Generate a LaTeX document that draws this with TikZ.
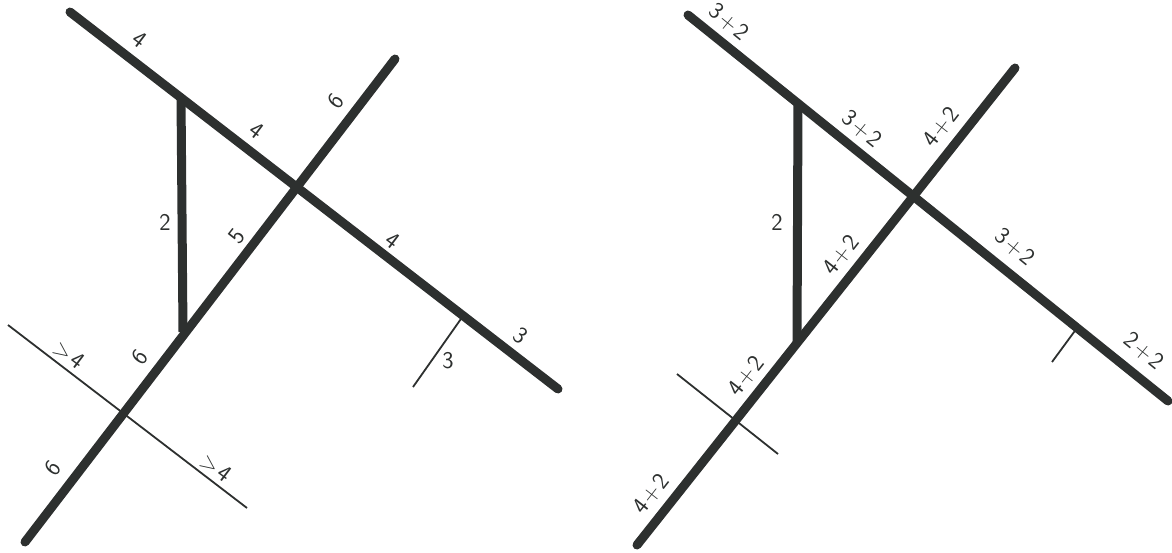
\documentclass[tikz,border=0pt]{standalone}
\usepackage{fontspec}
\definecolor{ink}{RGB}{45,48,47}
\newcommand{\pls}[2]{#1\kern2pt+\kern2pt#2}
\begin{document}
\begin{tikzpicture}[x=1pt,y=-1pt,
  thickline/.style={draw=ink,line width=9pt,line cap=round},
  thinline/.style={draw=ink,line width=1.8pt},
  lab/.style={font=\sffamily\fontsize{24}{24}\selectfont,text=ink,inner sep=0pt}]
\useasboundingbox (0,0) rectangle (1172,552);
% ---------- left figure ----------
\coordinate (la1) at (70,12);
\coordinate (la2) at (558,389);
\coordinate (lv1) at (181,97);
\coordinate (lx) at (295,186);
\coordinate (lb1) at (25,542);
\coordinate (lb2) at (395,59);
\coordinate (lv2) at (183,332);
\coordinate (lc1) at (8,325);
\coordinate (lc2) at (247,508);
\coordinate (lt1) at (463,316);
\coordinate (lt2) at (413,387);
\draw[thinline] (lc1) -- (lc2);
\draw[thinline] (lt1) -- (lt2);
\draw[thickline] (la1) -- (la2);
\draw[thickline] (lb1) -- (lb2);
\draw[thickline,line cap=butt] (lv1) -- (lv2);
\node[lab,rotate=-37] (l4a) at (140,40) {4};
\node[lab,rotate=-37] (l4b) at (257,131) {4};
\node[lab,rotate=52] (l6a) at (336,101) {6};
\node[lab] (l2) at (165,222) {2};
\node[lab,rotate=52] (l5) at (237,236) {5};
\node[lab,rotate=-37] (l4c) at (393,241) {4};
\node[lab,rotate=-37] (l3a) at (521,336) {3};
\node[lab] (l3b) at (448,361) {3};
\node[lab,rotate=-37] (lg1) at (69,355) {>\kern2.5pt4};
\node[lab,rotate=52] (l6b) at (140,357) {6};
\node[lab,rotate=52] (l6c) at (53,468) {6};
\node[lab,rotate=-37] (lg2) at (216,468) {>\kern2.5pt4};
% ---------- right figure ----------
\coordinate (ra1) at (688,15);
\coordinate (ra2) at (1168,401);
\coordinate (rv1) at (798,103);
\coordinate (rx) at (912,194);
\coordinate (rb1) at (637,545);
\coordinate (rb2) at (1015,68);
\coordinate (rv2) at (797,343);
\coordinate (rc1) at (677,374);
\coordinate (rc2) at (778,454);
\coordinate (rt1) at (1077,328);
\coordinate (rt2) at (1052,362);
\draw[thinline] (rc1) -- (rc2);
\draw[thinline] (rt1) -- (rt2);
\draw[thickline] (ra1) -- (ra2);
\draw[thickline] (rb1) -- (rb2);
\draw[thickline,line cap=butt] (rv1) -- (rv2);
\node[lab,rotate=-39] (r32a) at (729,22) {\pls{3}{2}};
\node[lab,rotate=-39] (r32b) at (862,129) {\pls{3}{2}};
\node[lab,rotate=52] (r42a) at (941,127) {\pls{4}{2}};
\node[lab] (r2) at (777,222) {2};
\node[lab,rotate=52] (r42b) at (841,255) {\pls{4}{2}};
\node[lab,rotate=-39] (r32c) at (1015,247) {\pls{3}{2}};
\node[lab,rotate=52] (r42c) at (746,376) {\pls{4}{2}};
\node[lab,rotate=52] (r42d) at (651,494) {\pls{4}{2}};
\node[lab,rotate=-39] (r22) at (1144,351) {\pls{2}{2}};
\end{tikzpicture}
\end{document}
